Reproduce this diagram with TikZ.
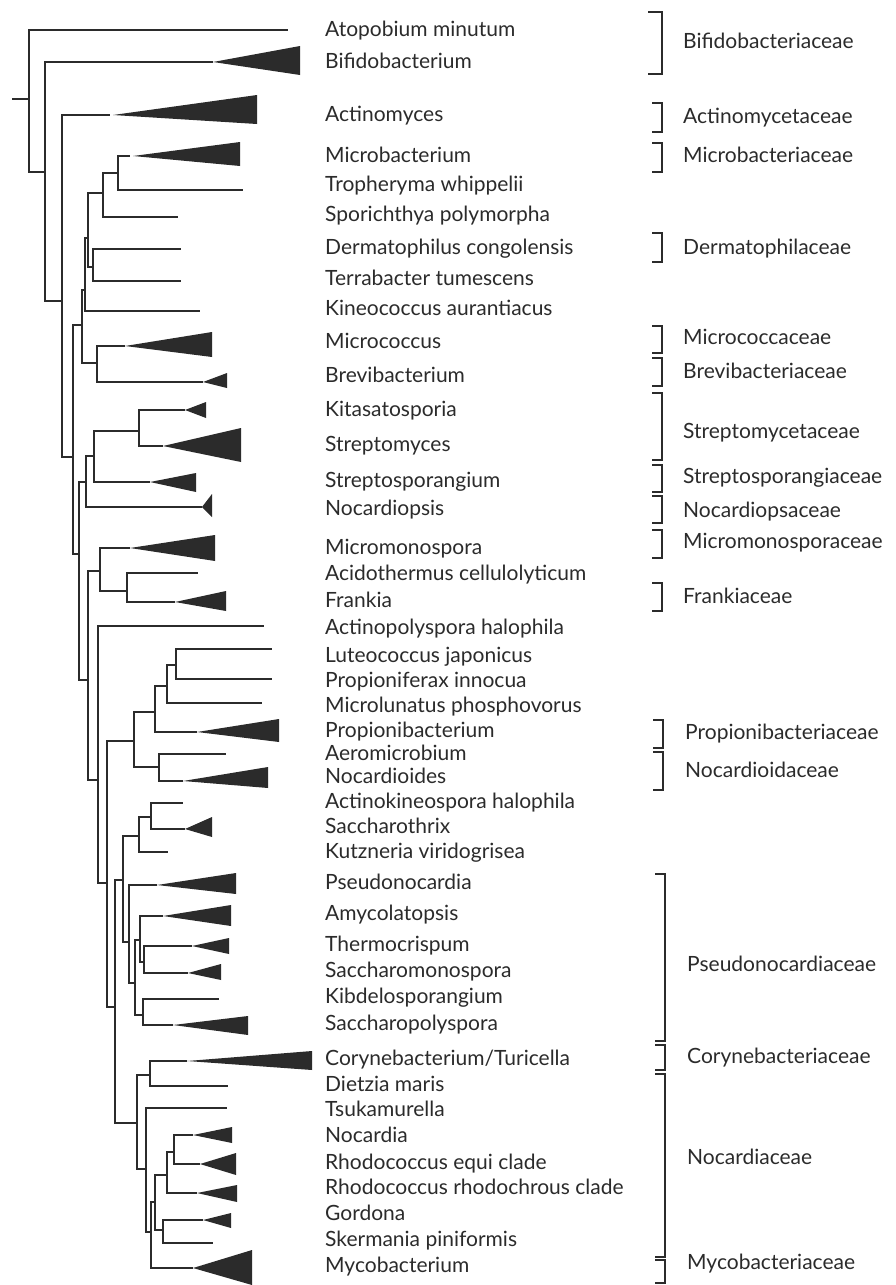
\documentclass[tikz,border=0pt]{standalone}
\usepackage{fontspec}
\setmainfont{Lato}
\definecolor{ink}{HTML}{2B2B2B}
\newcommand\mkclade[6]{%
  \coordinate (#1) at (#2,#3);
  \coordinate (#1t) at (#4,#5);
  \coordinate (#1b) at (#4,#6);
  \fill[tri] (#1) -- (#1t) -- (#1b) -- cycle;}
\newcommand\famb[5]{% name, x, top, bottom, ticklen
  \coordinate (#1a) at (#2-#5,#3);
  \coordinate (#1b) at (#2,#3);
  \coordinate (#1c) at (#2,#4);
  \coordinate (#1d) at (#2-#5,#4);
  \draw[fam] (#1a) -- (#1b) -- (#1c) -- (#1d);}
\begin{document}
\begin{tikzpicture}[x=1pt,y=-1pt,
  br/.style={draw=ink,line width=1.8pt},
  tri/.style={fill=ink},
  lab/.style={anchor=mid west,inner sep=0pt,yshift=-4pt,text=ink,font=\fontsize{21}{21}\selectfont},
  fam/.style={draw=ink,line width=1.5pt}]
\useasboundingbox (0,0) rectangle (895,1285);
% ---- internal nodes ----
\coordinate (r0) at (12,99);
\coordinate (root) at (29,99);
\coordinate (B) at (45,172);
\coordinate (C) at (62,301);
\coordinate (D) at (73,457);
\coordinate (E) at (82,325);
\coordinate (F) at (85,290);
\coordinate (G) at (88,238);
\coordinate (H) at (103,193);
\coordinate (MT) at (118,173);
\coordinate (DT) at (93,267);
\coordinate (MB) at (97,363);
\coordinate (I) at (79,554);
\coordinate (SG) at (86,482);
\coordinate (S2) at (94,456);
\coordinate (S3) at (139,431);
\coordinate (J) at (88,680);
\coordinate (MM) at (100,571);
\coordinate (AF) at (127,591);
\coordinate (K) at (98,780);
\coordinate (L) at (107,883);
\coordinate (P1) at (134,741);
\coordinate (P2) at (155,712);
\coordinate (P3) at (167,686);
\coordinate (P4) at (176,665);
\coordinate (AN) at (159,767);
\coordinate (M) at (115,1007);
\coordinate (N) at (123,880);
\coordinate (AK) at (139,836);
\coordinate (AK2) at (151,817);
\coordinate (Q) at (129,942);
\coordinate (R) at (135,983);
\coordinate (S) at (140,940);
\coordinate (T) at (144,962);
\coordinate (KS) at (143,1015);
\coordinate (U) at (137,1123);
\coordinate (CD) at (150,1075);
\coordinate (V) at (146,1169);
\coordinate (W) at (151,1232);
\coordinate (X) at (155,1202);
\coordinate (Y) at (167,1175);
\coordinate (Z) at (174,1152);
\coordinate (GS) at (163,1230);
% ---- single tips ----
\coordinate (atop) at (288,30);
\coordinate (actE) at (110,115);
\coordinate (micbE) at (130,156);
\coordinate (troph) at (243,190);
\coordinate (spor) at (178,217);
\coordinate (derm) at (181,249);
\coordinate (terra) at (181,281);
\coordinate (kineo) at (200,311);
\coordinate (acido) at (198,573);
\coordinate (actpoly) at (264,626);
\coordinate (luteo) at (272,649);
\coordinate (propfer) at (272,679);
\coordinate (microlun) at (262,703);
\coordinate (aeromic) at (226,754);
\coordinate (actkin) at (183,803);
\coordinate (kutz) at (168,852);
\coordinate (kibd) at (219,999);
\coordinate (dietzia) at (228,1086);
\coordinate (tsuka) at (227,1108);
\coordinate (skerm) at (213,1243);
% ---- collapsed clades ----
\mkclade{bif}{213}{62}{300}{46}{75}
\mkclade{act}{113}{115}{257}{95}{124}
\mkclade{micb}{133}{156}{240}{142}{166}
\mkclade{microc}{125}{346}{212}{332}{357}
\mkclade{brevi}{203}{382}{227}{373}{388}
\mkclade{kita}{185}{410}{206}{402}{418}
\mkclade{strepto}{163}{446}{241}{428}{462}
\mkclade{streptospor}{150}{482}{196}{473}{492}
\mkclade{nocardiopsis}{202}{507}{212}{494}{517}
\mkclade{micromono}{130}{548}{215}{535}{561}
\mkclade{frankia}{175}{602}{226}{591}{611}
\mkclade{propioni}{197}{732}{279}{719}{742}
\mkclade{nocardioides}{183}{781}{268}{767}{788}
\mkclade{sacchthrix}{185}{829}{212}{817}{837}
\mkclade{pseudo}{157}{885}{236}{873}{894}
\mkclade{amycol}{163}{916}{231}{905}{926}
\mkclade{thermo}{192}{946}{229}{938}{954}
\mkclade{sacmono}{188}{973}{221}{964}{980}
\mkclade{sacpoly}{173}{1025}{248}{1016}{1035}
\mkclade{coryne}{187}{1061}{312}{1051}{1070}
\mkclade{nocardia}{193}{1135}{232}{1127}{1143}
\mkclade{rhodequi}{200}{1164}{236}{1153}{1175}
\mkclade{rhodrhod}{197}{1193}{237}{1185}{1202}
\mkclade{gordona}{203}{1220}{231}{1213}{1228}
\mkclade{myco}{193}{1268}{252}{1250}{1285}
% ---- branches ----
\draw[br] (r0) -- (root);
\draw[br] (root) |- (atop);
\draw[br] (root) |- (B);
\draw[br] (B) |- (bif);
\draw[br] (B) |- (C);
\draw[br] (C) |- (actE);
\draw[br] (C) |- (D);
\draw[br] (D) |- (E);
\draw[br] (D) |- (I);
\draw[br] (E) |- (F);
\draw[br] (E) |- (MB);
\draw[br] (F) |- (G);
\draw[br] (F) |- (kineo);
\draw[br] (G) |- (H);
\draw[br] (G) |- (DT);
\draw[br] (H) |- (MT);
\draw[br] (H) |- (spor);
\draw[br] (MT) |- (micbE);
\draw[br] (MT) |- (troph);
\draw[br] (DT) |- (derm);
\draw[br] (DT) |- (terra);
\draw[br] (MB) |- (microc);
\draw[br] (MB) |- (brevi);
\draw[br] (I) |- (SG);
\draw[br] (I) |- (J);
\draw[br] (SG) |- (S2);
\draw[br] (SG) |- (nocardiopsis);
\draw[br] (S2) |- (S3);
\draw[br] (S2) |- (streptospor);
\draw[br] (S3) |- (kita);
\draw[br] (S3) |- (strepto);
\draw[br] (J) |- (MM);
\draw[br] (J) |- (K);
\draw[br] (MM) |- (micromono);
\draw[br] (MM) |- (AF);
\draw[br] (AF) |- (acido);
\draw[br] (AF) |- (frankia);
\draw[br] (K) |- (actpoly);
\draw[br] (K) |- (L);
\draw[br] (L) |- (P1);
\draw[br] (L) |- (M);
\draw[br] (P1) |- (P2);
\draw[br] (P1) |- (AN);
\draw[br] (P2) |- (P3);
\draw[br] (P2) |- (propioni);
\draw[br] (P3) |- (P4);
\draw[br] (P3) |- (microlun);
\draw[br] (P4) |- (luteo);
\draw[br] (P4) |- (propfer);
\draw[br] (AN) |- (aeromic);
\draw[br] (AN) |- (nocardioides);
\draw[br] (M) |- (N);
\draw[br] (M) |- (U);
\draw[br] (N) |- (AK);
\draw[br] (N) |- (Q);
\draw[br] (AK) |- (AK2);
\draw[br] (AK) |- (kutz);
\draw[br] (AK2) |- (actkin);
\draw[br] (AK2) |- (sacchthrix);
\draw[br] (Q) |- (pseudo);
\draw[br] (Q) |- (R);
\draw[br] (R) |- (S);
\draw[br] (R) |- (KS);
\draw[br] (S) |- (amycol);
\draw[br] (S) |- (T);
\draw[br] (T) |- (thermo);
\draw[br] (T) |- (sacmono);
\draw[br] (KS) |- (kibd);
\draw[br] (KS) |- (sacpoly);
\draw[br] (U) |- (CD);
\draw[br] (U) |- (V);
\draw[br] (CD) |- (coryne);
\draw[br] (CD) |- (dietzia);
\draw[br] (V) |- (tsuka);
\draw[br] (V) |- (W);
\draw[br] (W) |- (X);
\draw[br] (W) |- (myco);
\draw[br] (X) |- (Y);
\draw[br] (X) |- (GS);
\draw[br] (Y) |- (Z);
\draw[br] (Y) |- (rhodrhod);
\draw[br] (Z) |- (nocardia);
\draw[br] (Z) |- (rhodequi);
\draw[br] (GS) |- (gordona);
\draw[br] (GS) |- (skerm);
% ---- taxon labels ----
\node[lab] (t1) at (325,30) {Atopobium minutum};
\node[lab] (t2) at (325,62) {Bifidobacterium};
\node[lab] (t3) at (325,115) {Actinomyces};
\node[lab] (t4) at (325,156) {Microbacterium};
\node[lab] (t5) at (325,185) {Tropheryma whippelii};
\node[lab] (t6) at (325,215) {Sporichthya polymorpha};
\node[lab] (t7) at (325,248) {Dermatophilus congolensis};
\node[lab] (t8) at (325,279) {Terrabacter tumescens};
\node[lab] (t9) at (325,309) {Kineococcus aurantiacus};
\node[lab] (t10) at (325,342) {Micrococcus};
\node[lab] (t11) at (325,376) {Brevibacterium};
\node[lab] (t12) at (325,410) {Kitasatosporia};
\node[lab] (t13) at (325,445) {Streptomyces};
\node[lab] (t14) at (325,481) {Streptosporangium};
\node[lab] (t15) at (325,509) {Nocardiopsis};
\node[lab] (t16) at (325,548) {Micromonospora};
\node[lab] (t17) at (325,574) {Acidothermus cellulolyticum};
\node[lab] (t18) at (325,601) {Frankia};
\node[lab] (t19) at (325,628) {Actinopolyspora halophila};
\node[lab] (t20) at (325,656) {Luteococcus japonicus};
\node[lab] (t21) at (325,681) {Propioniferax innocua};
\node[lab] (t22) at (325,706) {Microlunatus phosphovorus};
\node[lab] (t23) at (325,731) {Propionibacterium};
\node[lab] (t24) at (325,754) {Aeromicrobium};
\node[lab] (t25) at (325,777) {Nocardioides};
\node[lab] (t26) at (325,802) {Actinokineospora halophila};
\node[lab] (t27) at (325,827) {Saccharothrix};
\node[lab] (t28) at (325,852) {Kutzneria viridogrisea};
\node[lab] (t29) at (325,883) {Pseudonocardia};
\node[lab] (t30) at (325,914) {Amycolatopsis};
\node[lab] (t31) at (325,945) {Thermocrispum};
\node[lab] (t32) at (325,971) {Saccharomonospora};
\node[lab] (t33) at (325,997) {Kibdelosporangium};
\node[lab] (t34) at (325,1024) {Saccharopolyspora};
\node[lab] (t35) at (325,1059) {Corynebacterium/Turicella};
\node[lab] (t36) at (325,1085) {Dietzia maris};
\node[lab] (t37) at (325,1110) {Tsukamurella};
\node[lab] (t38) at (325,1136) {Nocardia};
\node[lab] (t39) at (325,1163) {Rhodococcus equi clade};
\node[lab] (t40) at (325,1188) {Rhodococcus rhodochrous clade};
\node[lab] (t41) at (325,1214) {Gordona};
\node[lab] (t42) at (325,1240) {Skermania piniformis};
\node[lab] (t43) at (325,1266) {Mycobacterium};
% ---- family brackets ----
\famb{f1}{662}{12}{74}{14}
\famb{f2}{662}{103}{132}{10}
\famb{f3}{662}{143}{172}{10}
\famb{f4}{662}{233}{262}{10}
\famb{f5}{662}{326}{353}{10}
\famb{f6}{662}{358}{386}{10}
\famb{f7}{662}{393}{460}{10}
\famb{f8}{662}{465}{492}{10}
\famb{f9}{662}{496}{523}{10}
\famb{f10}{662}{530}{558}{10}
\famb{f11}{662}{583}{611}{10}
\famb{f12}{663}{720}{748}{10}
\famb{f13}{663}{752}{790}{10}
\famb{f14}{665}{874}{1041}{10}
\famb{f15}{665}{1045}{1070}{10}
\famb{f16}{665}{1074}{1257}{10}
\famb{f17}{665}{1260}{1283}{10}
\node[lab] (g1) at (683,42) {Bifidobacteriaceae};
\node[lab] (g2) at (683,117) {Actinomycetaceae};
\node[lab] (g3) at (683,156) {Microbacteriaceae};
\node[lab] (g4) at (683,248) {Dermatophilaceae};
\node[lab] (g5) at (683,338) {Micrococcaceae};
\node[lab] (g6) at (683,372) {Brevibacteriaceae};
\node[lab] (g7) at (683,432) {Streptomycetaceae};
\node[lab] (g8) at (683,477) {Streptosporangiaceae};
\node[lab] (g9) at (683,511) {Nocardiopsaceae};
\node[lab] (g10) at (683,542) {Micromonosporaceae};
\node[lab] (g11) at (683,597) {Frankiaceae};
\node[lab] (g12) at (685,733) {Propionibacteriaceae};
\node[lab] (g13) at (685,771) {Nocardioidaceae};
\node[lab] (g14) at (687,965) {Pseudonocardiaceae};
\node[lab] (g15) at (687,1057) {Corynebacteriaceae};
\node[lab] (g16) at (687,1158) {Nocardiaceae};
\node[lab] (g17) at (687,1263) {Mycobacteriaceae};
\end{tikzpicture}
\end{document}
